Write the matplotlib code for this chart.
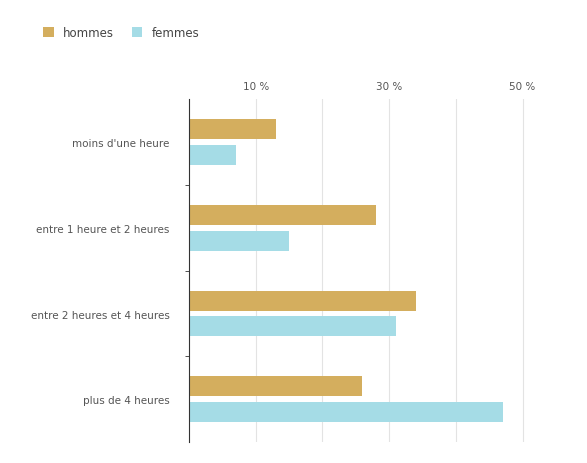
import matplotlib.pyplot as plt
import numpy as np

categories = ["moins d'une heure", "entre 1 heure et 2 heures",
              "entre 2 heures et 4 heures", "plus de 4 heures"]
hommes = [13, 28, 34, 26]
femmes = [7, 15, 31, 47]

GOLD = "#D4AE5E"
BLUE = "#A5DCE6"

fig = plt.figure(figsize=(5.87, 4.64), dpi=100)
ax = fig.add_axes([0.322, 0.045, 0.591, 0.739])

y = np.arange(len(categories))
h = 0.235
ax.barh(y - 0.15, hommes, height=h, color=GOLD, label="hommes")
ax.barh(y + 0.15, femmes, height=h, color=BLUE, label="femmes")

ax.set_ylim(len(categories) - 0.5, -0.5)
ax.set_xlim(0, 52)
ax.set_yticks(y)
ax.set_yticklabels(categories, fontsize=7.5, color="#555555")
ax.set_yticks(np.arange(len(categories) - 1) + 0.5, minor=True)
ax.tick_params(axis="y", which="major", length=0, pad=14)
ax.tick_params(axis="y", which="minor", length=3, color="#333333")

ax.xaxis.tick_top()
ax.set_xticks([10, 20, 30, 40, 50])
ax.set_xticklabels(["10 %", "", "30 %", "", "50 %"], fontsize=7.5, color="#555555")
ax.tick_params(axis="x", length=0, pad=6)
ax.grid(axis="x", color="#e3e3e3", linewidth=0.8)
ax.set_axisbelow(True)

for s in ["top", "right", "bottom"]:
    ax.spines[s].set_visible(False)
ax.spines["left"].set_color("#333333")

fig.legend(loc="upper left", bbox_to_anchor=(0.055, 0.965), ncol=2, frameon=False,
           fontsize=8.5, handlelength=0.9, handleheight=0.9, columnspacing=1.5,
           labelcolor="#444444")
for hd in fig.legends[0].legend_handles:
    hd.set_boxstyle = None

plt.savefig("out.png", dpi=100)
